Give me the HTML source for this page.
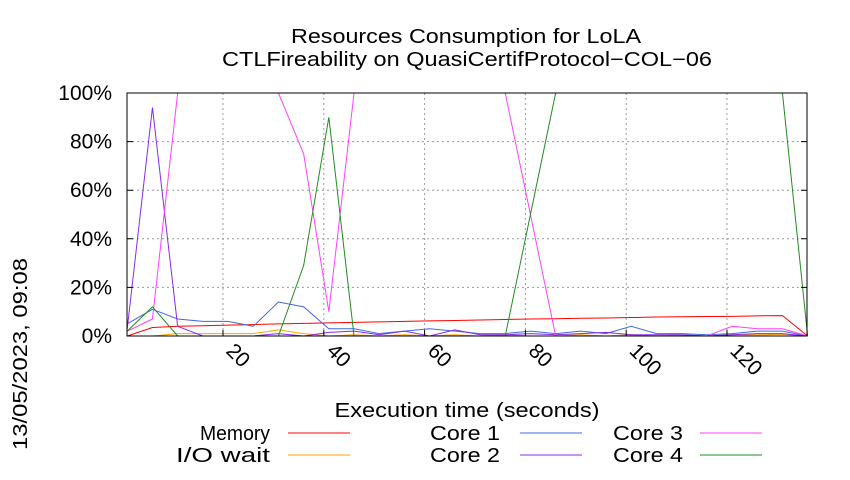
<!DOCTYPE html>
<html><head><meta charset="utf-8"><style>
body{margin:0;background:#fff;}
svg{font-family:"Liberation Sans",sans-serif;}
</style></head><body>
<svg width="850" height="475" viewBox="0 0 850 475" xmlns="http://www.w3.org/2000/svg">
<g id="grid"></g>
<g id="series"></g>
<g id="axes"></g>
<text x="466" y="43" font-size="20" text-anchor="middle" textLength="350" lengthAdjust="spacingAndGlyphs">Resources Consumption for LoLA</text>
<text x="467" y="66" font-size="20" text-anchor="middle" textLength="490" lengthAdjust="spacingAndGlyphs">CTLFireability on QuasiCertifProtocol−COL−06</text>
<text x="467" y="417" font-size="20" text-anchor="middle" textLength="265" lengthAdjust="spacingAndGlyphs">Execution time (seconds)</text>
<text transform="translate(27,354) rotate(-90)" font-size="20" text-anchor="middle" textLength="192" lengthAdjust="spacingAndGlyphs">13/05/2023, 09:08</text>
<g id="legend"></g>
</svg>
<script>
const times=[1,6,11,16,21,26,31,36,41,46,51,56,61,66,71,76,81,86,91,96,101,106,111,116,121,126,131,136];
const memory=[0,3.5,4,4.2,4.5,4.7,5,5.2,5.4,5.6,5.8,6,6.2,6.4,6.6,6.8,7,7.1,7.3,7.4,7.6,7.8,7.9,8,8.1,8.3,8.4,0];
const iowait=[0,0,1,1,1,1,2.5,1,0,0.5,0,0.5,0,0.5,0,0.5,0,0,0.5,0,0.5,0,0.3,0,0.5,0.5,0.7,0];
const core1=[5,11,7,6,6,4,14,12,3,3,1,2,3,2,1,1,2,1,2,1,4,1,1,0.5,1,2,2,0];
const core2=[3,94,4,0,0,0,1,0,1.5,2,0.5,2,0,2.5,0.5,0.5,1,0.5,1,1.5,0.5,0.5,0.5,0,0.5,1,1,0];
const core3=[2,7,100,100,100,100,100,75,10,100,100,100,100,100,100,100,50,0,0,0,0,0,0,0,4,3,3,0];
const core4=[2,12,0,0,0,0,0,29,90,0,0,0,0,0,0,0,50,100,100,100,100,100,100,100,100,100,100,0];
const xTicks=[20,40,60,80,100,120];
const yTicks=[0,20,40,60,80,100];
const yTickLabels=["0%","20%","40%","60%","80%","100%"];
const L=127,R=807,T=93,B=336;
const xs=t=>122.2+t*5.04;
const ys=v=>B-v*(B-T)/100;
const NS="http://www.w3.org/2000/svg";
function mk(tag,attrs,parent){const e=document.createElementNS(NS,tag);for(const k in attrs)e.setAttribute(k,attrs[k]);parent.appendChild(e);return e;}
const grid=document.getElementById('grid'),axes=document.getElementById('axes'),ser=document.getElementById('series'),leg=document.getElementById('legend');
xTicks.forEach(t=>{
 const g=mk('line',{x1:xs(t),x2:xs(t),y1:T,y2:B,stroke:'#999','stroke-dasharray':'2,3'},grid);
 
 
 const tk=mk('line',{x1:xs(t),x2:xs(t),y1:B,y2:B-6,stroke:'#000'},axes);
 
 
 const tx=mk('text',{transform:`translate(${xs(t)+2},${B+16}) rotate(45)`,'font-size':21},axes);
 tx.textContent=t;
 
 
});
yTicks.forEach((v,i)=>{
 if(v>0&&v<100){const g=mk('line',{x1:L,x2:R,y1:ys(v),y2:ys(v),stroke:'#999','stroke-dasharray':'2,3'},grid);
 
 }
 const tk=mk('path',{d:`M${L},${ys(v)}h6M${R},${ys(v)}h-6`,stroke:'#000'},axes);
 
 
 const tx=mk('text',{x:112,y:ys(v)+7,'font-size':21,'text-anchor':'end'},axes);
 tx.textContent=yTickLabels[i];
 
 
});
const fr=mk('rect',{x:L,y:T,width:R-L,height:B-T,fill:'none',stroke:'#000','stroke-width':1},axes);


const series=[["Memory",memory,"#ff0000"],["I/O wait",iowait,"#ffa500"],["Core 1",core1,"#4169e1"],["Core 2",core2,"#8a2be2"],["Core 3",core3,"#ff40ff"],["Core 4",core4,"#228b22"]];
series.forEach(([n,d,c],i)=>{
 const p=mk('polyline',{points:d.map((v,j)=>xs(times[j])+','+ys(v)).join(' '),fill:'none',stroke:c,'stroke-width':1},ser);
 
 
 const col=Math.floor(i/2),row=i%2;
 const tx=[270,500,683][col],lx=[288,520,700][col],y=[433,455][row];
 const t=mk('text',{x:tx,y:y+7,'font-size':20,'text-anchor':'end',textLength:Math.round(n.length*11.7),lengthAdjust:'spacingAndGlyphs'},leg);
 t.textContent=n;
 
 
 const l=mk('line',{x1:lx,x2:lx+62,y1:y,y2:y,stroke:c},leg);
 
 
});
</script>
</body></html>
